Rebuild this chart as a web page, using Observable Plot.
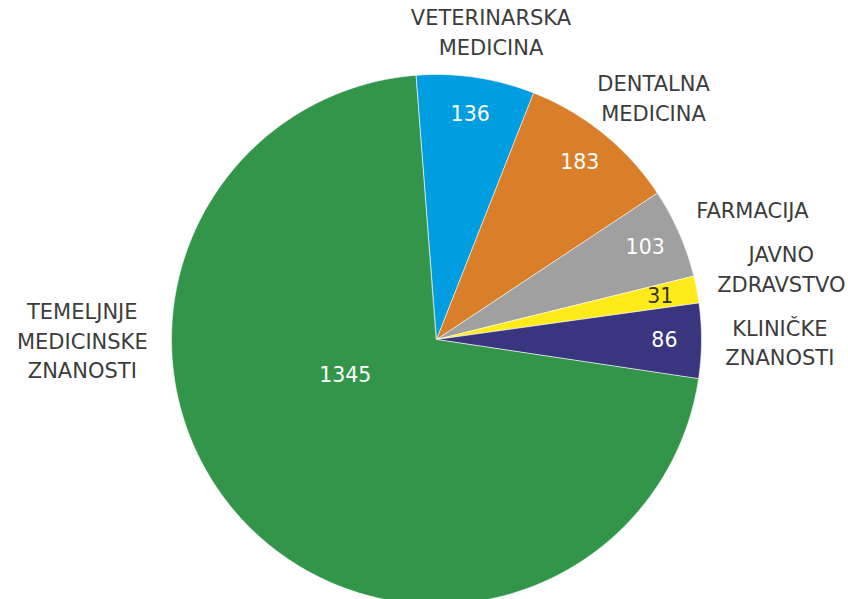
<!DOCTYPE html>
<html><head><meta charset="utf-8">
<script src="https://cdn.jsdelivr.net/npm/d3@7"></script>
<script src="https://cdn.jsdelivr.net/npm/@observablehq/plot@0.6"></script>
<style>html,body{margin:0;padding:0;background:#fff;overflow:hidden}</style>
</head><body><div id="chart"></div>
<script>
// ---- data ----
const categories = ["VETERINARSKA MEDICINA","DENTALNA MEDICINA","FARMACIJA","JAVNO ZDRAVSTVO","KLINIČKE ZNANOSTI","TEMELJNJE MEDICINSKE ZNANOSTI"];
const labelLines = [["VETERINARSKA","MEDICINA"],["DENTALNA","MEDICINA"],["FARMACIJA"],["JAVNO","ZDRAVSTVO"],["KLINIČKE","ZNANOSTI"],["TEMELJNJE","MEDICINSKE","ZNANOSTI"]];
const values = [136,183,103,31,86,1345];
const colors = ["#009ee0","#d97e29","#a0a0a0","#ffeb1a","#3a357f","#33954a"];
const valueTextColors = ["#ffffff","#ffffff","#ffffff","#333333","#ffffff","#ffffff"];

// ---- layout ----
const W = 848, H = 599;
const cx = 436, cy = 339, R = 265;
const startDeg = -4.5;
const FONT = "DejaVu Sans";
const FS = 21, VFS = 20.5, LH = 29.5;

const total = d3.sum(values);
const rad = d => d * Math.PI / 180;
let acc = startDeg;
const slices = values.map((v, i) => {
  const a0 = acc, a1 = acc + v / total * 360;
  acc = a1;
  return {cat: categories[i], value: v, a0, a1, mid: (a0 + a1) / 2, share: v / total, i};
});

// polygon points for each slice (unit circle coords, angle clockwise from top)
const pts = [];
for (const s of slices) {
  pts.push({cat: s.cat, x: 0, y: 0});
  const n = Math.max(2, Math.ceil((s.a1 - s.a0) / 0.5));
  for (let k = 0; k <= n; k++) {
    const a = rad(s.a0 + (s.a1 - s.a0) * k / n);
    pts.push({cat: s.cat, x: Math.sin(a), y: Math.cos(a)});
  }
}

// value labels
const valueLabels = slices.map(s => {
  const big = s.share > 0.5;
  const ang = rad(big ? (s.mid + 270) / 2 : s.mid);
  const r = big ? 0.37 : 0.86;
  return {text: String(s.value), x: r * Math.sin(ang), y: r * Math.cos(ang), color: valueTextColors[s.i]};
});

// outer category labels: anchored just outside the circle, box pushed outward
const ctx = document.createElement("canvas").getContext("2d");
ctx.font = `${FS}px "${FONT}"`;
const boxes = slices.map(s => {
  const lines = labelLines[s.i];
  const w = d3.max(lines, l => ctx.measureText(l).width);
  const h = (lines.length - 1) * LH + 18;
  const ang = rad(s.share > 0.5 ? 270 : s.mid);
  const ux = Math.sin(ang), uy = -Math.cos(ang);
  const ra = 1.09 * R;
  let px = cx + ra * ux + ux * w / 2;
  px = Math.max(w / 2 + 3, Math.min(W - w / 2 - 3, px));
  return {lines, w, h, ux, px, py: cy + ra * uy + uy * h / 2};
});
// resolve vertical overlaps on the right side: push upper labels upward
const right = boxes.filter(b => b.ux > 0.3).sort((a, b) => b.py - a.py);
for (let k = 1; k < right.length; k++) {
  const lower = right[k - 1], upper = right[k];
  const minD = (lower.h + upper.h) / 2 + 26;
  if (lower.py - upper.py < minD) upper.py = lower.py - minD;
}
const catLabels = boxes.map(b => ({text: b.lines.join("\n"), x: (b.px - cx) / R, y: (cy - b.py) / R}));

const chart = Plot.plot({
  width: W, height: H,
  margin: 0,
  style: {fontFamily: FONT, background: "#fff", overflow: "visible"},
  x: {domain: [-1, 1], range: [cx - R, cx + R], axis: null},
  y: {domain: [-1, 1], range: [cy + R, cy - R], axis: null},
  color: {domain: categories, range: colors},
  marks: [
    Plot.line(pts, {x: "x", y: "y", z: "cat", fill: "cat", stroke: "#ffffff", strokeWidth: 0.6, curve: "linear-closed"}),
    Plot.text(valueLabels.filter(d => d.color === "#ffffff"), {x: "x", y: "y", text: "text", fill: "#ffffff", fontSize: VFS}),
    Plot.text(valueLabels.filter(d => d.color !== "#ffffff"), {x: "x", y: "y", text: "text", fill: "#333333", fontSize: VFS}),
    Plot.text(catLabels, {x: "x", y: "y", text: "text", fill: "#3c3c3c", fontSize: FS, lineHeight: LH / FS, lineAnchor: "middle", textAnchor: "middle"})
  ]
});
document.getElementById("chart").appendChild(chart);
</script>
</body></html>
